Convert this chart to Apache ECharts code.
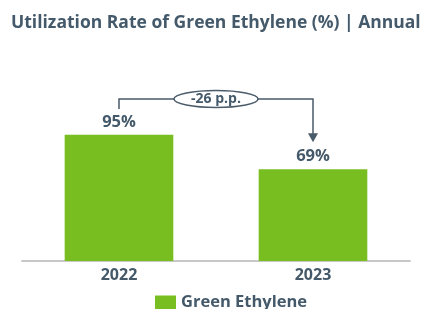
<!DOCTYPE html>
<html>
<head>
<meta charset="utf-8">
<script src="https://cdn.jsdelivr.net/npm/echarts@6/dist/echarts.min.js"></script>
<style>
  html, body { margin: 0; padding: 0; background: #fff; }
  #chart { width: 422px; height: 309px; }
</style>
</head>
<body>
<div id="chart"></div>
<script>
var years = ['2022', '2023'];
var seriesName = 'Green Ethylene';
var utilization = [95, 69];

var textColor = '#44596a';
var font = '"Open Sans", sans-serif';

var chart = echarts.init(document.getElementById('chart'));

var option = {
  animation: false,
  title: {
    text: 'Utilization Rate of Green Ethylene (%) | Annual',
    left: 6,
    top: 9,
    textStyle: { color: textColor, fontSize: 17.5, fontWeight: 'bold', fontFamily: font }
  },
  legend: {
    data: [seriesName],
    icon: 'rect',
    top: 289,
    left: 150,
    itemWidth: 21,
    itemHeight: 14,
    itemGap: 7,
    textStyle: { color: textColor, fontSize: 16.5, fontWeight: 'bold', fontFamily: font }
  },
  grid: {
    left: 22,
    right: 12,
    top: 128,
    bottom: 48
  },
  xAxis: {
    type: 'category',
    data: years,
    axisLine: { lineStyle: { color: '#c8c8c8', width: 2 } },
    axisTick: { show: false },
    axisLabel: { color: textColor, fontSize: 16, fontWeight: 'bold', fontFamily: font, margin: 6 }
  },
  yAxis: {
    type: 'value',
    min: 0,
    max: 100,
    show: false
  },
  series: [{
    name: seriesName,
    type: 'bar',
    barWidth: '56%',
    data: utilization,
    itemStyle: { color: '#78be21' },
    label: {
      show: true,
      position: 'top',
      distance: 4,
      formatter: '{c}%',
      color: textColor,
      fontSize: 16.5,
      fontWeight: 'bold',
      fontFamily: font
    }
  }]
};
chart.setOption(option);

// 变化标注：从数据位置计算
var p1 = chart.convertToPixel({ seriesIndex: 0 }, [0, utilization[0]]);
var p2 = chart.convertToPixel({ seriesIndex: 0 }, [1, utilization[1]]);
var lineY = 99;
var midX = (p1[0] + p2[0]) / 2;
var delta = utilization[1] - utilization[0];
var lineStyle = { stroke: '#4a5b6a', lineWidth: 1.5, fill: null };

chart.setOption({
  graphic: [
    {
      type: 'polyline',
      shape: { points: [[p1[0], lineY + 10], [p1[0], lineY], [p2[0], lineY], [p2[0], p2[1] - 35]] },
      style: lineStyle
    },
    {
      type: 'polygon',
      shape: { points: [[p2[0] - 5, p2[1] - 36], [p2[0] + 5, p2[1] - 36], [p2[0], p2[1] - 27]] },
      style: { fill: '#4a5b6a' }
    },
    {
      type: 'ellipse',
      shape: { cx: midX, cy: lineY, rx: 42, ry: 8.5 },
      style: { fill: '#fff', stroke: '#4a5b6a', lineWidth: 1.5 }
    },
    {
      type: 'text',
      x: midX,
      y: lineY + 0.5,
      style: {
        text: (delta > 0 ? '+' : '') + delta + ' p.p.',
        align: 'center',
        verticalAlign: 'middle',
        fill: textColor,
        font: 'bold 14px ' + font
      }
    }
  ]
});
</script>
</body>
</html>
